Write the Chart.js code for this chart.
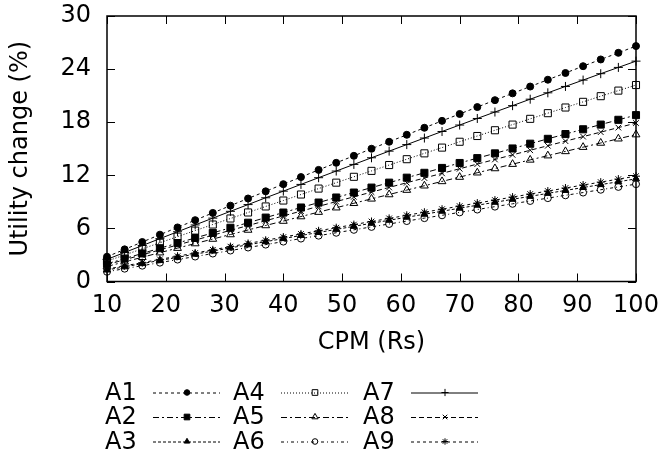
<!DOCTYPE html>
<html>
<head>
<meta charset="utf-8">
<script src="https://cdn.jsdelivr.net/npm/chart.js"></script>
<style>
  html, body { margin: 0; padding: 0; background: #fff; }
  #wrap { width: 663px; height: 457px; }
</style>
</head>
<body>
<div id="wrap"><canvas id="utility-chart" width="663" height="457"></canvas></div>
<script>
// CPM values (x) and utility change (%) for each scheme
const cpm = [10, 13, 16, 19, 22, 25, 28, 31, 34, 37, 40, 43, 46, 49, 52, 55,
             58, 61, 64, 67, 70, 73, 76, 79, 82, 85, 88, 91, 94, 97, 100];

const a1 = [2.80, 3.63, 4.46, 5.29, 6.11, 6.93, 7.75, 8.57, 9.38, 10.19, 11.00, 11.80, 12.61, 13.41, 14.20, 15.00,
            15.79, 16.58, 17.37, 18.15, 18.93, 19.71, 20.49, 21.26, 22.03, 22.80, 23.56, 24.33, 25.09, 25.84, 26.60];
const a2 = [2.00, 2.59, 3.17, 3.76, 4.34, 4.92, 5.49, 6.07, 6.64, 7.22, 7.79, 8.36, 8.92, 9.49, 10.05, 10.61,
            11.17, 11.73, 12.28, 12.83, 13.39, 13.94, 14.48, 15.03, 15.57, 16.12, 16.66, 17.20, 17.73, 18.27, 18.80];
const a3 = [1.30, 1.66, 2.02, 2.38, 2.73, 3.09, 3.44, 3.80, 4.15, 4.50, 4.85, 5.20, 5.54, 5.89, 6.23, 6.58,
            6.92, 7.26, 7.60, 7.94, 8.28, 8.62, 8.95, 9.29, 9.62, 9.96, 10.29, 10.62, 10.95, 11.27, 11.60];
const a4 = [2.30, 3.00, 3.69, 4.38, 5.07, 5.75, 6.44, 7.12, 7.80, 8.48, 9.15, 9.83, 10.50, 11.17, 11.83, 12.50,
            13.16, 13.82, 14.48, 15.13, 15.79, 16.44, 17.09, 17.73, 18.38, 19.02, 19.66, 20.30, 20.94, 21.57, 22.20];
const a5 = [1.70, 2.22, 2.74, 3.26, 3.77, 4.29, 4.80, 5.31, 5.82, 6.33, 6.83, 7.34, 7.84, 8.34, 8.84, 9.34,
            9.83, 10.33, 10.82, 11.31, 11.80, 12.29, 12.77, 13.26, 13.74, 14.22, 14.70, 15.18, 15.65, 16.13, 16.60];
const a6 = [1.10, 1.45, 1.79, 2.13, 2.48, 2.82, 3.16, 3.50, 3.84, 4.17, 4.51, 4.85, 5.18, 5.51, 5.84, 6.17,
            6.50, 6.83, 7.16, 7.48, 7.81, 8.13, 8.46, 8.78, 9.10, 9.42, 9.74, 10.05, 10.37, 10.69, 11.00];
const a7 = [2.50, 3.28, 4.06, 4.84, 5.62, 6.39, 7.16, 7.93, 8.69, 9.46, 10.21, 10.97, 11.73, 12.48, 13.23, 13.98,
            14.73, 15.47, 16.21, 16.95, 17.68, 18.42, 19.15, 19.87, 20.60, 21.32, 22.04, 22.76, 23.48, 24.19, 24.90];
const a8 = [1.90, 2.46, 3.02, 3.57, 4.13, 4.68, 5.23, 5.78, 6.32, 6.87, 7.41, 7.95, 8.49, 9.03, 9.57, 10.10,
            10.63, 11.16, 11.69, 12.22, 12.74, 13.27, 13.79, 14.31, 14.83, 15.34, 15.86, 16.37, 16.88, 17.39, 17.90];
const a9 = [1.40, 1.77, 2.13, 2.50, 2.86, 3.22, 3.58, 3.94, 4.30, 4.66, 5.02, 5.37, 5.73, 6.08, 6.43, 6.78,
            7.13, 7.48, 7.83, 8.17, 8.52, 8.86, 9.20, 9.54, 9.88, 10.22, 10.56, 10.90, 11.23, 11.57, 11.90];

const seriesLabels = ['A1', 'A2', 'A3', 'A4', 'A5', 'A6', 'A7', 'A8', 'A9'];
const seriesValues = [a1, a2, a3, a4, a5, a6, a7, a8, a9];

const xTicks = [10, 20, 30, 40, 50, 60, 70, 80, 90, 100];
const yTicks = [0, 6, 12, 18, 24, 30];

// gnuplot-like line / point styles
const NONE = 'rgba(0,0,0,0)';
const styles = [
    {dash: [3, 3],       point: 'circle',   r: 3.5, fill: '#000'},
    {dash: [6, 3, 2, 3], point: 'rect',     r: 5,   fill: '#000'},
    {dash: [3, 2],       point: 'triangle', r: 4,   fill: '#000'},
    {dash: [1, 2],       point: 'rect',     r: 5,   fill: NONE},
    {dash: [6, 3, 2, 3], point: 'triangle', r: 4.5, fill: NONE},
    {dash: [3, 3, 1, 3], point: 'circle',   r: 3.5, fill: NONE},
    {dash: [],           point: 'cross',    r: 4.5, fill: NONE},
    {dash: [5, 3],       point: 'crossRot', r: 4,   fill: NONE},
    {dash: [3, 3],       point: 'star',     r: 4,   fill: NONE}
];

const FONT = "'DejaVu Sans', sans-serif";
Chart.defaults.font.family = FONT;
Chart.defaults.font.size = 24;
Chart.defaults.color = '#000';

const datasets = seriesLabels.map((label, i) => ({
    label: label,
    data: cpm.map((c, k) => ({x: c, y: seriesValues[i][k]})),
    borderColor: '#000',
    backgroundColor: styles[i].fill,
    borderWidth: 1,
    borderDash: styles[i].dash,
    pointStyle: styles[i].point,
    pointRadius: styles[i].r,
    pointBorderColor: '#000',
    pointBackgroundColor: styles[i].fill,
    pointBorderWidth: 1,
    tension: 0,
    clip: false
}));

// Marco, marcas de eje hacia dentro y leyenda en 3 columnas
const frameAndLegend = {
    id: 'frameAndLegend',
    afterDraw(chart) {
        const {ctx, chartArea: a, scales: {x, y}} = chart;
        ctx.save();
        ctx.strokeStyle = '#000';
        ctx.setLineDash([]);
        ctx.lineWidth = 1;
        ctx.beginPath();
        xTicks.forEach(v => {
            const px = Math.round(x.getPixelForValue(v)) + 0.5;
            ctx.moveTo(px, a.bottom); ctx.lineTo(px, a.bottom - 8);
            ctx.moveTo(px, a.top); ctx.lineTo(px, a.top + 8);
        });
        yTicks.forEach(v => {
            const py = Math.round(y.getPixelForValue(v)) + 0.5;
            ctx.moveTo(a.left, py); ctx.lineTo(a.left + 8, py);
            ctx.moveTo(a.right, py); ctx.lineTo(a.right - 8, py);
        });
        ctx.stroke();
        ctx.lineWidth = 1.5;
        ctx.strokeRect(a.left, a.top, a.right - a.left, a.bottom - a.top);

        // legend
        const colX = [105, 233, 363];
        const rowY = [392.5, 417, 441.5];
        ctx.font = '24px ' + FONT;
        ctx.fillStyle = '#000';
        ctx.textAlign = 'left';
        ctx.textBaseline = 'middle';
        chart.data.datasets.forEach((ds, i) => {
            const cx = colX[Math.floor(i / 3)];
            const cy = rowY[i % 3];
            ctx.fillText(ds.label, cx, cy + 1);
            ctx.lineWidth = 1;
            ctx.setLineDash(ds.borderDash);
            ctx.beginPath();
            ctx.moveTo(cx + 48, cy + 0.5);
            ctx.lineTo(cx + 115, cy + 0.5);
            ctx.stroke();
            ctx.setLineDash([]);
            ctx.fillStyle = ds.pointBackgroundColor;
            Chart.helpers.drawPoint(ctx, {
                pointStyle: ds.pointStyle,
                radius: ds.pointRadius * 0.8,
                rotation: 0,
                borderWidth: 1
            }, cx + 82, cy);
            ctx.fillStyle = '#000';
        });
        ctx.restore();
    }
};

const config = {
    type: 'line',
    data: {datasets},
    options: {
        responsive: false,
        animation: false,
        devicePixelRatio: 1,
        layout: {padding: {left: 0, top: 16, right: 27, bottom: 99.5}},
        plugins: {
            legend: {display: false},
            tooltip: {enabled: false}
        },
        scales: {
            x: {
                type: 'linear',
                min: 10,
                max: 100,
                grid: {display: false, drawTicks: false},
                border: {display: false},
                ticks: {stepSize: 10, autoSkip: false, maxRotation: 0, padding: 10},
                title: {display: true, text: 'CPM (Rs)', padding: {top: 4, bottom: 0}},
                afterFit(scale) {
                    scale.height = 76;
                    scale.paddingLeft = 0;
                    scale.paddingRight = 0;
                }
            },
            y: {
                min: 0,
                max: 30,
                grid: {display: false, drawTicks: false},
                border: {display: false},
                ticks: {stepSize: 6, padding: 16},
                title: {display: true, text: 'Utility change (%)', padding: {top: 6, bottom: 0}},
                afterFit(scale) {
                    scale.width = 107;
                    scale.paddingTop = 0;
                    scale.paddingBottom = 0;
                }
            }
        }
    },
    plugins: [frameAndLegend]
};

const ctx = document.getElementById('utility-chart').getContext('2d');
new Chart(ctx, config);
</script>
</body>
</html>
